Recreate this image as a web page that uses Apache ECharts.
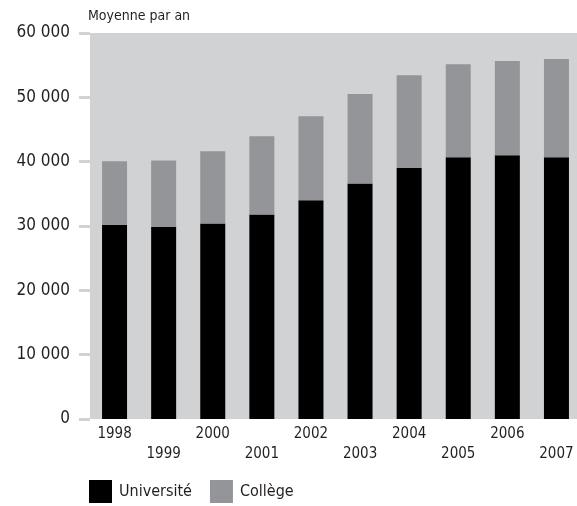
<!DOCTYPE html>
<html>
<head>
<meta charset="utf-8">
<script src="https://cdn.jsdelivr.net/npm/echarts@6/dist/echarts.min.js"></script>
<style>
  html, body { margin: 0; padding: 0; background: #fff; }
  #chart { width: 577px; height: 506px; }
</style>
</head>
<body>
<div id="chart"></div>
<script>
  // données
  const years = ['1998', '1999', '2000', '2001', '2002', '2003', '2004', '2005', '2006', '2007']
  const universite = [30200, 29900, 30400, 31800, 34000, 36600, 39000, 40700, 41000, 40700]
  const college = [9850, 10300, 11200, 12150, 13050, 13900, 14450, 14450, 14650, 15250]
  const yTicks = [0, 10000, 20000, 30000, 40000, 50000, 60000]

  const font = 'DejaVu Sans Condensed'
  const chart = echarts.init(document.getElementById('chart'))

  chart.setOption({
    animation: false,
    title: {
      text: 'Moyenne par an',
      left: 83,
      top: 4,
      textStyle: { fontFamily: font, fontSize: 14, fontWeight: 'normal', color: '#231f20' }
    },
    legend: {
      left: 84,
      top: 475,
      itemWidth: 23,
      itemHeight: 23,
      itemGap: 18,
      icon: 'rect',
      data: ['Université', 'Collège'],
      textStyle: { fontFamily: font, fontSize: 16, color: '#231f20', padding: [0, 0, 0, 2] }
    },
    grid: {
      left: 90,
      top: 33,
      width: 491,
      height: 386,
      show: true,
      borderWidth: 0,
      backgroundColor: '#d1d2d4',
      outerBoundsMode: 'none'
    },
    xAxis: {
      type: 'category',
      data: years,
      axisLine: { show: false },
      axisTick: { show: false },
      axisLabel: {
        interval: 0,
        margin: 5,
        fontFamily: font,
        fontSize: 15,
        lineHeight: 20,
        color: '#231f20',
        formatter: function (v, i) {
          return i % 2 ? '\n' + v : v // années impaires sur la deuxième ligne
        }
      }
    },
    yAxis: {
      type: 'value',
      min: yTicks[0],
      max: yTicks[yTicks.length - 1],
      interval: 10000,
      axisLine: { show: false },
      axisTick: { show: true, length: 11, lineStyle: { color: '#d1d2d4', width: 3 } },
      splitLine: { show: false },
      axisLabel: {
        margin: 20,
        fontFamily: font,
        fontSize: 17,
        color: '#231f20',
        formatter: function (v) {
          return String(v).replace(/\B(?=(\d{3})+(?!\d))/g, ' ')
        }
      }
    },
    series: [
      {
        name: 'Université',
        type: 'bar',
        stack: 'total',
        data: universite,
        barWidth: 25,
        itemStyle: { color: '#000000' }
      },
      {
        name: 'Collège',
        type: 'bar',
        stack: 'total',
        data: college,
        barWidth: 25,
        itemStyle: { color: '#939598' }
      }
    ]
  })
</script>
</body>
</html>
